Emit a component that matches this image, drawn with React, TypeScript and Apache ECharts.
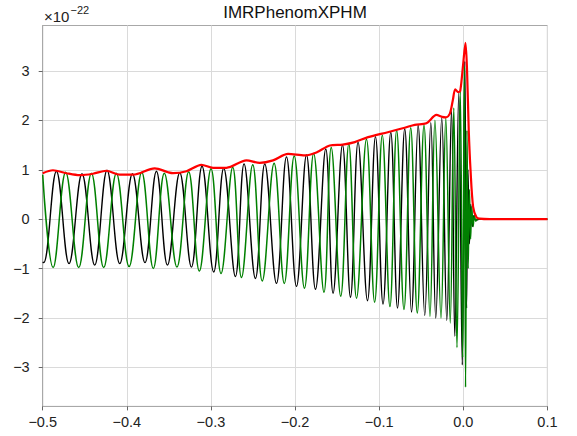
import React, { useEffect, useRef } from 'react';
import * as echarts from 'echarts';

// h_plus (black) extrema, time in s, strain in units of 1e-22
const plusTimes = [
  -0.5, -0.4988, -0.4837, -0.4687, -0.4533, -0.4382, -0.4235, -0.4084, -0.3933, -0.3784, -0.3648,
  -0.3517, -0.3371, -0.3232, -0.3106, -0.2967, -0.2848, -0.2709, -0.2606, -0.2471, -0.2360,
  -0.2221, -0.2102, -0.1983, -0.1864, -0.1757, -0.1635, -0.1548, -0.1436, -0.1341, -0.1251,
  -0.1139, -0.1044, -0.0954, -0.0862, -0.0782, -0.0696, -0.0616, -0.0537, -0.0458, -0.0386,
  -0.0327, -0.0256, -0.0196, -0.0140, -0.0101, -0.0054, -0.0012, 0.0018, 0.0039, 0.0056,
  0.0073, 0.0089, 0.0107, 0.0125, 0.0149, 0.0196, 0.1,
];
const plusValues = [
  -0.87, -0.88, 0.97, -0.9, 0.92, -0.93, 0.99, -0.9, 0.92, -0.88, 0.97,
  -0.93, 0.94, -0.97, 1.07, -1.07, 1.03, -1.16, 1.12, -1.2, 1.12,
  -1.3, 1.26, -1.36, 1.3, -1.42, 1.42, -1.5, 1.5, -1.58, 1.56,
  -1.65, 1.67, -1.72, 1.76, -1.8, 1.83, -1.88, 1.9, -1.95, 1.95,
  -2.0, 2.05, -2.05, 2.2, -2.37, 2.55, -2.95, 3.2, -1.8, 1.0,
  -0.5, 0.3, -0.15, 0.07, -0.02, 0, 0,
];

// h_cross (green) extrema
const crossTimes = [
  -0.5, -0.4876, -0.4727, -0.4572, -0.4421, -0.4275, -0.4124, -0.3973, -0.3823, -0.3685,
  -0.3554, -0.3404, -0.3265, -0.3138, -0.2999, -0.2880, -0.2741, -0.2637, -0.2503, -0.2390,
  -0.2249, -0.2128, -0.2010, -0.1888, -0.1779, -0.1656, -0.1570, -0.1457, -0.1361, -0.1269,
  -0.1151, -0.1054, -0.0963, -0.0872, -0.0792, -0.0705, -0.0625, -0.0547, -0.0467, -0.0396,
  -0.0337, -0.0265, -0.0208, -0.0155, -0.0113, -0.0075, -0.0036, -0.0008, 0.0012, 0.0027,
  0.0044, 0.0058, 0.0073, 0.0087, 0.0101, 0.0117, 0.0132, 0.0149, 0.0172, 0.022, 0.1,
];
const crossValues = [
  0.9, -0.98, 0.95, -0.98, 0.93, -0.98, 0.93, -0.96, 0.95, -1.0,
  0.93, -0.97, 0.96, -1.05, 1.02, -1.1, 1.05, -1.18, 1.1, -1.25,
  1.13, -1.3, 1.28, -1.4, 1.33, -1.48, 1.45, -1.56, 1.52, -1.6,
  1.62, -1.68, 1.7, -1.77, 1.8, -1.83, 1.85, -1.9, 1.9, -1.97,
  2.0, -2.0, 2.05, -2.1, 2.25, -2.6, 2.6, -2.8, 3.1, -3.4,
  1.8, -1.0, 0.6, -0.4, 0.25, -0.15, 0.08, -0.04, 0.01, 0, 0,
];

// amplitude envelope (red)
const ampTimes = [
  -0.5, -0.4878, -0.4718, -0.456, -0.4402, -0.4243, -0.4084, -0.3926, -0.3668, -0.351,
  -0.3451, -0.3291, -0.3113, -0.2975, -0.2816, -0.2578, -0.242, -0.2262, -0.2083, -0.1885,
  -0.1746, -0.1587, -0.1433, -0.129, -0.1132, -0.0898, -0.0696, -0.0577, -0.0438, -0.0319,
  -0.0252, -0.0208, -0.0161, -0.0125, -0.0095, -0.0059, -0.0036, -0.0002, 0.0026, 0.0045,
  0.0065, 0.0086, 0.0117, 0.0157, 0.0196, 0.0315, 0.1,
];
const ampValues = [
  0.93, 0.99, 0.93, 0.89, 0.92, 0.98, 0.9, 0.9, 1.03, 0.95,
  0.93, 0.97, 1.1, 1.04, 1.04, 1.19, 1.14, 1.19, 1.32, 1.29,
  1.35, 1.49, 1.51, 1.56, 1.66, 1.76, 1.85, 1.91, 1.94, 2.11,
  2.07, 2.06, 2.13, 2.4, 2.63, 2.57, 2.6, 3.13, 3.57, 3.0,
  1.8, 1.0, 0.25, 0.04, 0.01, 0, 0,
];

const xTicks = [-0.5, -0.4, -0.3, -0.2, -0.1, 0, 0.1];
const yTicks = [-3, -2, -1, 0, 1, 2, 3];
const titleText = 'IMRPhenomXPHM';
const offsetBase = '×10';
const offsetExp = '−22';

const FONT = "'Liberation Sans', Arial, sans-serif";

const pairs = (ts: number[], vs: number[]) => ts.map((t, i) => [t, vs[i]]);

const fmtX = (v: number) => {
  if (Math.abs(v) < 1e-9) return '0.0';
  return (v < 0 ? '−' : '') + Math.abs(v).toFixed(1);
};
const fmtY = (v: number) => {
  if (Math.abs(v) < 1e-9) return '0';
  return (v < 0 ? '−' : '') + String(Math.round(Math.abs(v)));
};

export default function App() {
  const ref = useRef<HTMLDivElement>(null);
  useEffect(() => {
    if (!ref.current) return;
    const chart = echarts.init(ref.current, null, { renderer: 'svg' });
    const axisColor = '#a8a8a8';
    chart.setOption({
      animation: false,
      backgroundColor: '#ffffff',
      grid: {
        left: 42.7,
        right: 29.6,
        top: 25.5,
        bottom: 29.6,
        show: true,
        borderColor: axisColor,
        borderWidth: 1,
        backgroundColor: 'transparent',
      },
      xAxis: {
        type: 'value',
        min: -0.5,
        max: 0.1,
        axisLine: { show: true, onZero: false, lineStyle: { color: axisColor, width: 1 } },
        axisTick: { show: true, customValues: xTicks, length: 4, lineStyle: { color: '#666' } },
        axisLabel: {
          customValues: xTicks,
          formatter: fmtX,
          color: '#222',
          fontSize: 14.5,
          fontFamily: FONT,
          margin: 8,
        },
        splitLine: { show: true, lineStyle: { color: '#dadada', width: 1 } },
      },
      yAxis: {
        type: 'value',
        min: -3.79,
        max: 3.92,
        axisLine: { show: true, onZero: false, lineStyle: { color: axisColor, width: 1 } },
        axisTick: { show: true, customValues: yTicks, length: 4, lineStyle: { color: '#666' } },
        axisLabel: {
          customValues: yTicks,
          formatter: fmtY,
          color: '#222',
          fontSize: 14.5,
          fontFamily: FONT,
          margin: 13,
        },
        splitLine: { show: true, lineStyle: { color: '#dadada', width: 1 } },
      },
      graphic: [
        {
          type: 'text',
          x: 295,
          y: 12,
          style: {
            text: titleText,
            fontSize: 17,
            fontFamily: FONT,
            fill: '#111',
            textAlign: 'center',
            textVerticalAlign: 'middle',
          },
        },
        {
          type: 'text',
          x: 44,
          y: 16,
          style: {
            text: offsetBase,
            fontSize: 15,
            fontFamily: FONT,
            fill: '#222',
            textAlign: 'left',
            textVerticalAlign: 'middle',
          },
        },
        {
          type: 'text',
          x: 70.5,
          y: 9.5,
          style: {
            text: offsetExp,
            fontSize: 11,
            fontFamily: FONT,
            fill: '#222',
            textAlign: 'left',
            textVerticalAlign: 'middle',
          },
        },
      ],
      series: [
        {
          type: 'line',
          name: 'plus',
          data: pairs(plusTimes, plusValues),
          showSymbol: false,
          smooth: 0.4,
          lineStyle: { color: '#000000', width: 1.4 },
          z: 2,
        },
        {
          type: 'line',
          name: 'cross',
          data: pairs(crossTimes, crossValues),
          showSymbol: false,
          smooth: 0.4,
          lineStyle: { color: '#008000', width: 1.5 },
          z: 3,
        },
        {
          type: 'line',
          name: 'amp',
          data: pairs(ampTimes, ampValues),
          showSymbol: false,
          smooth: 0.3,
          lineStyle: { color: '#ff0000', width: 2.2 },
          z: 4,
        },
      ],
    });
    return () => chart.dispose();
  }, []);
  return (
    <div
      ref={ref}
      style={{ position: 'fixed', left: 0, top: 0, width: 577, height: 436, background: '#fff' }}
    />
  );
}
